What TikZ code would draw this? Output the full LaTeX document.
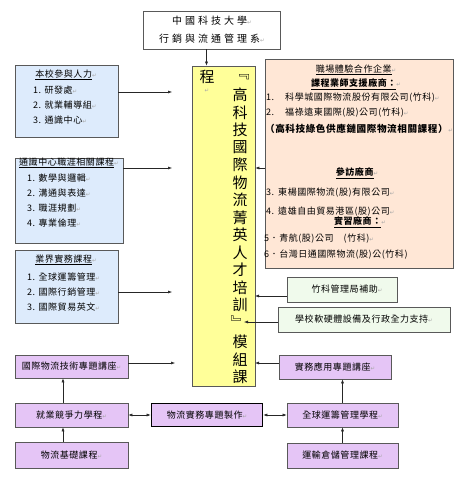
\documentclass[tikz,border=0pt]{standalone}
\usepackage{fontspec}
\usetikzlibrary{arrows.meta}
\newfontfamily\cjk[LetterSpace=6]{Noto Sans CJK TC}
\newfontfamily\cjkwide[LetterSpace=30]{Noto Sans CJK TC}
\newfontfamily\cjkv{Noto Sans CJK TC}
\newfontfamily\symfont{DejaVu Sans}
\newcommand{\rt}{{\symfont\color{black!35}\fontsize{5.5}{6}\selectfont ↵}}
\definecolor{boxblue}{RGB}{221,235,252}
\definecolor{boxpeach}{RGB}{255,231,214}
\definecolor{boxgreen}{RGB}{240,250,236}
\definecolor{boxlilac}{RGB}{229,197,246}
\definecolor{boxyellow}{RGB}{255,255,153}
\begin{document}
\begin{tikzpicture}[
  x=1pt,
  y=-1pt,
  box/.style={draw=black!65, line width=0.6pt, inner sep=0pt, font=\cjk\fontsize{9}{11}\selectfont},
  bluebox/.style={box, fill=boxblue},
  peachbox/.style={box, fill=boxpeach},
  greenbox/.style={box, fill=boxgreen},
  lilacbox/.style={box, fill=boxlilac},
  yellowbox/.style={box, fill=boxyellow},
  txt/.style={inner sep=0pt, font=\cjk\fontsize{9}{11}\selectfont},
  vtxt/.style={inner sep=0pt, font=\cjkv\fontsize{15}{15}\selectfont},
  arr/.style={-{Latex[length=4pt,width=3pt]}, black!85, line width=0.5pt},
  darr/.style={{Latex[length=4pt,width=3pt]}-{Latex[length=4pt,width=3pt]}, black!85, line width=0.5pt}
]
\useasboundingbox (0,0) rectangle (462,478);

% department
\node[box, fill=white, minimum width=137pt, minimum height=38pt] (dept) at (211.5,30) {};
\node[txt, font=\cjkwide\fontsize{10}{12}\selectfont] (deptA) at (212,21) {中國科技大學\rt};
\node[txt, font=\cjkwide\fontsize{10}{12}\selectfont] (deptB) at (212,39) {行銷與流通管理系\rt};

% core programme
\node[yellowbox, minimum width=63pt, minimum height=320pt] (core) at (223.5,226) {};
\node[vtxt] (coreA) at (207,77) {程};
\node[txt] (coreAr) at (207,91) {\rt};
\node[vtxt] (qopen) at (242,77) {﹃};
\foreach \c [count=\i] in {高,科,技,國,際,物,流,菁,英,人,才,培,訓}
  \node[vtxt] (ch\i) at (240,77.5+17.5*\i) {\c};
\node[vtxt] (qclose) at (238,322) {﹄};
\node[vtxt] (coreM) at (240,342) {模};
\node[vtxt] (coreN) at (240,360) {組};
\node[vtxt] (coreK) at (240,377) {課};

% left column
\node[bluebox, minimum width=103pt, minimum height=72pt] (staff) at (66.5,101) {};
\node[txt] (staffT) at (66,75) {\underline{本校參與人力}\rt};
\node[txt, anchor=west] (staff1) at (33,90) {1. 研發處\rt};
\node[txt, anchor=west] (staff2) at (33,105) {2. 就業輔導組\rt};
\node[txt, anchor=west] (staff3) at (33,120) {3. 通識中心\rt};

\node[bluebox, minimum width=108pt, minimum height=85pt] (gen) at (69,200.5) {};
\node[txt, anchor=west] (genT) at (19,163) {\underline{通識中心職涯相關課程}\rt};
\node[txt, anchor=west] (gen1) at (27,178) {1. 數學與邏輯\rt};
\node[txt, anchor=west] (gen2) at (27,193) {2. 溝通與表達\rt};
\node[txt, anchor=west] (gen3) at (27,208) {3. 職涯規劃\rt};
\node[txt, anchor=west] (gen4) at (27,223) {4. 專業倫理\rt};

\node[bluebox, minimum width=103pt, minimum height=73pt] (ind) at (66.5,286.5) {};
\node[txt] (indT) at (66,260) {\underline{業界實務課程}\rt};
\node[txt, anchor=west] (ind1) at (27,277) {1. 全球運籌管理\rt};
\node[txt, anchor=west] (ind2) at (27,292) {2. 國際行銷管理\rt};
\node[txt, anchor=west] (ind3) at (27,307) {3. 國際貿易英文\rt};

% partner firms
\node[peachbox, minimum width=188pt, minimum height=209pt] (firms) at (359,163.5) {};
\node[txt] (firmsT) at (356,70) {\underline{職場體驗合作企業}\rt};
\node[txt] (firmsA) at (356,84) {\textbf{\underline{課程業師支援廠商：}}\rt};
\node[txt, anchor=west] (firm1) at (266,98) {1.\hspace{11pt}科學城國際物流股份有限公司(竹科)\rt};
\node[txt, anchor=west] (firm2) at (266,113) {2.\hspace{11pt}福祿遠東國際(股)公司(竹科)\rt};
\node[txt, font=\cjk\fontsize{9.6}{11}\selectfont] (firmsB) at (359,129) {\textbf{（高科技綠色供應鏈國際物流相關課程）}\rt};
\node[txt] (firmsC) at (357,173) {\textbf{\underline{參訪廠商}}\rt};
\node[txt, anchor=west] (firm3) at (266,193) {3.\hspace{4pt}東楊國際物流(股)有限公司\rt};
\node[txt, anchor=west] (firm4) at (266,212) {4.\hspace{4pt}遠雄自由貿易港區(股)公司\rt};
\node[txt] (firmsD) at (360,222) {\textbf{\underline{實習廠商：}}\rt};
\node[txt, anchor=west] (firm5) at (264,239) {5．青航(股)公司　(竹科)\rt};
\node[txt, anchor=west] (firm6) at (264,255) {6．台灣日通國際物流(股)公(竹科)};

\node[greenbox, minimum width=110pt, minimum height=25pt] (grant) at (342,289.5) {\hspace{10pt}竹科管理局補助\rt};
\node[greenbox, minimum width=172pt, minimum height=25pt] (support) at (364,319.5) {學校軟硬體設備及行政全力支持\rt};

% bottom row
\node[lilacbox, minimum width=113pt, minimum height=23pt] (lectL) at (71.5,366.5) {國際物流技術專題講座\rt};
\node[lilacbox, minimum width=113pt, minimum height=24pt] (progL) at (71.5,415) {就業競爭力學程\rt};
\node[lilacbox, minimum width=113pt, minimum height=26pt] (baseL) at (71.5,455) {物流基礎課程\rt};
\node[lilacbox, draw=black, line width=1.6pt, minimum width=111pt, minimum height=23pt] (proj) at (207,415) {物流實務專題製作\rt};
\node[lilacbox, minimum width=112pt, minimum height=24pt] (lectR) at (335,367) {實務應用專題講座\rt};
\node[lilacbox, minimum width=111pt, minimum height=24pt] (progR) at (342.5,415) {全球運籌管理學程\rt};
\node[lilacbox, minimum width=111pt, minimum height=25pt] (baseR) at (342.5,455.5) {運輸倉儲管理課程\rt};

% connectors
\coordinate (staffend) at (172,92);
\coordinate (genend) at (172,168);
\coordinate (indend) at (172,292);
\coordinate (lectend) at (175,363);
\coordinate (grantin) at (255,296);
\coordinate (qin) at (244,322);
\coordinate (lectin) at (255,363);
\draw[arr] ([xshift=-5pt]dept.south) -- ([xshift=-5pt]dept.south |- core.north);
\draw[arr] (staff.east |- staffend) -- (staffend);
\draw[arr] (gen.east |- genend) -- (genend);
\draw[arr] (ind.east |- indend) -- (indend);
\draw[arr] (firms.west |- genend) -- (core.east |- genend);
\draw[arr] (grant.west |- grantin) -- (grantin);
\draw[arr] (support.west |- qin) -- (qin);
\draw[arr] (lectL.east |- lectend) -- (lectend);
\draw[arr] (lectR.west |- lectin) -- (lectin);
\draw[arr] ([xshift=-8.5pt]baseL.north) -- ([xshift=-8.5pt]progL.south);
\draw[arr] ([xshift=-8.5pt]progL.north) -- ([xshift=-8.5pt]lectL.south);
\draw[arr] (baseR) -- (progR);
\draw[arr] (progR) -- (lectR.south -| progR);
\draw[darr] (progL) -- (proj);
\draw[darr] (proj) -- (progR);
\end{tikzpicture}
\end{document}
